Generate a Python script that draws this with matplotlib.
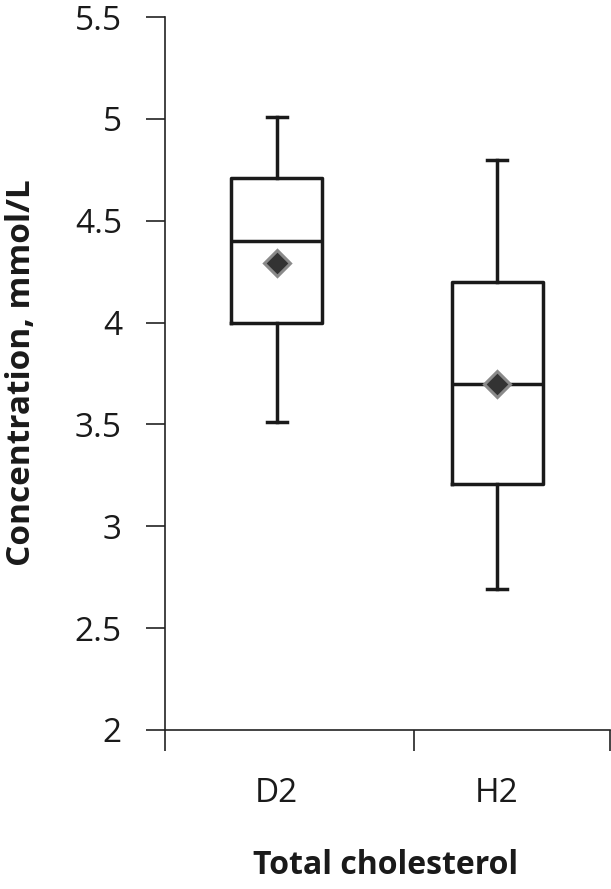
import matplotlib
matplotlib.use("Agg")
import matplotlib.pyplot as plt

categories = ["D2", "H2"]
whisker_low = [3.51, 2.69]
q1 = [4.00, 3.21]
median = [4.40, 3.70]
q3 = [4.71, 4.20]
whisker_high = [5.01, 4.80]
means = [4.29, 3.70]
y_ticks = [2, 2.5, 3, 3.5, 4, 4.5, 5, 5.5]
y_tick_labels = ["2", "2.5", "3", "3.5", "4", "4.5", "5", "5.5"]

plt.rcParams['font.family'] = ['Open Sans', 'DejaVu Sans']

W, H = 611, 889
fig = plt.figure(figsize=(W / 100, H / 100), dpi=100)
ax = fig.add_axes([165 / W, (H - 730) / H, 445 / W, 713 / H])

positions = [111.5, 332]
stats = []
for i, c in enumerate(categories):
    stats.append(dict(label=c, whislo=whisker_low[i], q1=q1[i], med=median[i],
                      q3=q3[i], whishi=whisker_high[i], mean=means[i], fliers=[]))

lw = 2.5
col = "#1a1a1a"
ax.bxp(stats, positions=positions, widths=91, capwidths=20, showmeans=True,
       showfliers=False, patch_artist=False,
       boxprops=dict(color=col, linewidth=lw),
       whiskerprops=dict(color=col, linewidth=lw),
       capprops=dict(color=col, linewidth=lw),
       medianprops=dict(color=col, linewidth=lw),
       meanprops=dict(marker="D", markerfacecolor="#333333",
                      markeredgecolor="#8a8a8a", markeredgewidth=2.2,
                      markersize=13))

ax.set_xlim(0, 445)
ax.set_ylim(2, 5.5)

for s in ["top", "right"]:
    ax.spines[s].set_visible(False)
for s in ["left", "bottom"]:
    ax.spines[s].set_linewidth(1.2)
    ax.spines[s].set_color("#222222")

ax.set_yticks(y_ticks)
ax.set_yticklabels(y_tick_labels)
ax.tick_params(axis="y", direction="out", length=14, width=1.2, color="#222222",
               pad=17, labelsize=24, labelcolor="#1a1a1a")

ax.set_xticks([0, 249, 445])
ax.set_xticklabels([])
ax.tick_params(axis="x", which="major", direction="out", length=15, width=1.2,
               color="#222222")
ax.set_xticks(positions, minor=True)
ax.set_xticklabels(categories, minor=True)
ax.tick_params(axis="x", which="minor", length=0, pad=34, labelsize=24,
               labelcolor="#1a1a1a")

fig.text(22 / W, 1 - 373 / H, "Concentration, mmol/L", rotation=90,
         ha="center", va="center", fontsize=24, fontweight="bold", color="#1a1a1a")
fig.text(386 / W, 1 - 866 / H, "Total cholesterol", ha="center", va="center",
         fontsize=23, fontweight="bold", color="#1a1a1a")

fig.savefig("out.png", dpi=100, facecolor="white")
